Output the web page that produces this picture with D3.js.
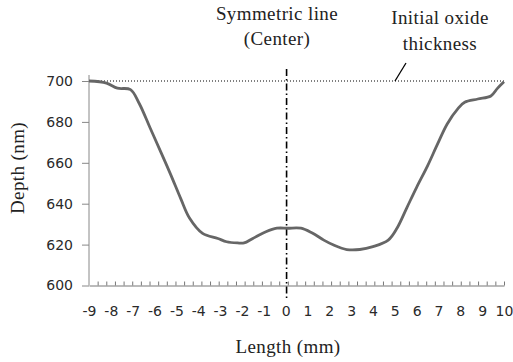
<!DOCTYPE html>
<html>
<head>
<meta charset="utf-8">
<script src="https://cdn.jsdelivr.net/npm/d3@7"></script>
<style>
  body { margin: 0; background: #fff; }
  .tick text { font-family: "DejaVu Sans", sans-serif; font-size: 14px; fill: #2a2a2a; }
  .label { font-family: "Liberation Serif", serif; font-size: 19px; letter-spacing: 0.4px; fill: #222; }
</style>
</head>
<body>
<svg width="513" height="362"></svg>
<script>
// profile: length (mm) and depth (nm)
const lengths = [-9, -8.2, -7.7, -7.1, -6.7, -6.2, -5.7, -5.25, -4.8, -4.4, -3.8, -3.1, -2.7, -2.2, -1.9, -1.5, -0.9, -0.4, 0.1, 0.7,
    1.2, 1.75, 2.2, 2.8, 3.4, 4.0, 4.7, 5.1, 5.55, 6.0, 6.5, 6.95, 7.4, 7.9, 8.2, 8.8, 9.4, 9.7, 10];
const depths = [700, 699, 696.5, 695.8, 689, 677, 665, 654, 642.5, 633, 625.5, 623, 621.4, 620.8, 620.8, 623, 626.3, 628, 628, 628,
    625.8, 622.2, 619.8, 617.6, 617.6, 619, 622.2, 628, 638, 648, 658.5, 669, 679, 686.6, 689.6, 691.2, 692.7, 696.4, 699.6];

const xLabels = [-9, -8, -7, -6, -5, -4, -3, -2, -1, 0, 1, 2, 3, 4, 5, 6, 7, 8, 9, 10];
const yTicks = [600, 620, 640, 660, 680, 700];
const initialThickness = 700;
const center = 0;

const svg = d3.select('svg');

const x = d3.scaleLinear().domain([-9, 10]).range([89, 504]);
const y = d3.scaleLinear().domain([600, 700]).range([285.5, 81]);

// y axis
svg.append('g')
    .attr('transform', `translate(${x(-9)},0)`)
    .call(d3.axisLeft(y).tickValues(yTicks).tickSize(7).tickSizeOuter(0).tickPadding(9))
    .call(g => g.selectAll('line, path').attr('stroke', '#888'))
    .call(g => g.select('.domain').attr('d', `M0,${y(600)}V${y(700) - 6}`));

// x axis: baseline with small inward ticks, labels drawn separately
const minorTicks = d3.range(1, 49).map(i => -9 + i * 19 / 48);
svg.append('g')
    .attr('transform', `translate(0,${y(600)})`)
    .call(d3.axisTop(x).tickValues(minorTicks).tickSize(4).tickSizeOuter(0).tickFormat(''))
    .call(g => g.selectAll('line, path').attr('stroke', '#777'));

svg.append('g')
    .attr('transform', `translate(0,${y(600) + 21})`)
    .call(d3.axisBottom(x).tickValues(xLabels).tickSize(0).tickPadding(0).tickFormat(d => String(d)))
    .call(g => g.select('.domain').remove());

// initial oxide thickness
svg.append('line')
    .attr('x1', x(-9)).attr('x2', x(10))
    .attr('y1', y(initialThickness)).attr('y2', y(initialThickness))
    .attr('stroke', '#000').attr('stroke-width', 1)
    .attr('stroke-dasharray', '1,2');

// symmetric line
svg.append('line')
    .attr('x1', x(center) + 1).attr('x2', x(center) + 1)
    .attr('y1', 69).attr('y2', 298)
    .attr('stroke', '#000').attr('stroke-width', 1.6)
    .attr('stroke-dasharray', '7,3,1.5,3');

// profile
const line = d3.line()
    .x((d, i) => x(lengths[i]))
    .y(d => y(d))
    .curve(d3.curveCatmullRom.alpha(0.5));

svg.append('path')
    .datum(depths)
    .attr('fill', 'none')
    .attr('stroke', '#666')
    .attr('stroke-width', 2.8)
    .attr('stroke-linejoin', 'round')
    .attr('d', line);

// leader for the thickness note
svg.append('line')
    .attr('x1', 395).attr('y1', y(initialThickness))
    .attr('x2', 406).attr('y2', 63)
    .attr('stroke', '#000').attr('stroke-width', 1.3);

svg.append('text').attr('class', 'label')
    .attr('x', 277).attr('y', 20).attr('text-anchor', 'middle')
    .text('Symmetric line');
svg.append('text').attr('class', 'label')
    .attr('x', 277).attr('y', 45).attr('text-anchor', 'middle')
    .text('(Center)');

svg.append('text').attr('class', 'label')
    .attr('x', 440).attr('y', 24).attr('text-anchor', 'middle')
    .text('Initial oxide');
svg.append('text').attr('class', 'label')
    .attr('x', 440).attr('y', 50).attr('text-anchor', 'middle')
    .text('thickness');

svg.append('text').attr('class', 'label')
    .attr('transform', 'translate(24,168) rotate(-90)')
    .attr('text-anchor', 'middle')
    .text('Depth (nm)');

svg.append('text').attr('class', 'label')
    .attr('x', 288).attr('y', 353).attr('text-anchor', 'middle')
    .text('Length (mm)');
</script>
</body>
</html>
